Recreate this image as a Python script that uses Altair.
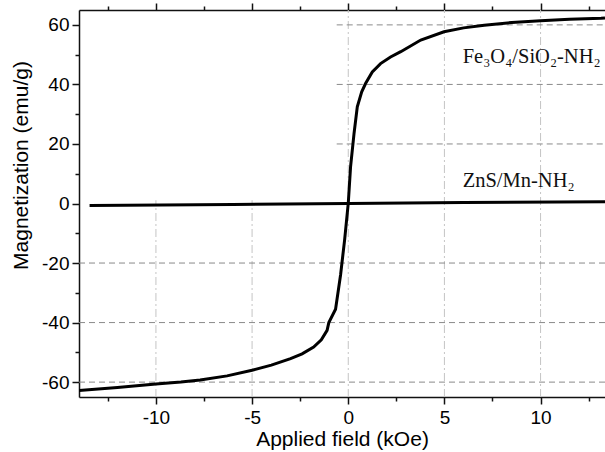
import altair as alt
import pandas as pd

# Fe3O4/SiO2-NH2 magnetization curve: applied field (kOe) vs magnetization (emu/g)
fe_h = [-14.0, -12.0, -10.0, -8.7, -7.7, -6.3, -5.0, -4.0, -3.0, -2.4, -1.8, -1.4,
        -1.1, -1.01, -0.66, -0.4, -0.19, 0.0, 0.12, 0.3, 0.47, 0.7, 0.9, 1.25,
        1.68, 2.2, 2.73, 3.77, 4.98, 6.0, 7.07, 8.5, 10.0, 11.5, 13.15, 13.35]
fe_m = [-62.8, -61.8, -60.6, -60.0, -59.3, -57.9, -56.0, -54.3, -52.1, -50.5, -48.2, -45.8,
        -42.6, -40.0, -35.5, -24.0, -12.3, 0.0, 12.3, 23.5, 32.5, 37.5, 40.3, 44.2,
        47.0, 49.2, 51.0, 54.9, 57.7, 59.0, 59.9, 60.8, 61.4, 61.9, 62.2, 62.3]

# ZnS/Mn-NH2: nearly flat response
zn_h = [-13.45, -6.0, 0.0, 6.0, 13.35]
zn_m = [-0.7, -0.35, 0.0, 0.3, 0.6]

# Axis ticks (major + minor)
x_ticks = [-12.5, -10, -7.5, -5, -2.5, 0, 2.5, 5, 7.5, 10, 12.5]
y_ticks = [-60, -50, -40, -30, -20, -10, 0, 10, 20, 30, 40, 50, 60]

# Grid lines (the upper-left quadrant is left clear)
hgrid_y = [-60, -40, -20, 20, 40, 60]
hgrid_x0 = [-14.0, -14.0, -14.0, -0.6, -0.6, -0.6]
hgrid_x1 = [13.35, 13.35, 13.35, 13.35, 13.35, 13.35]
vgrid_x = [-10, -5, 0, 5, 10]
vgrid_y0 = [-65, -65, -65, -65, -65]
vgrid_y1 = [1.1, 1.1, 65, 65, 65]

# Curve labels
label_text = ["Fe\u2083O\u2084/SiO\u2082-NH\u2082", "ZnS/Mn-NH\u2082"]
label_h = [5.95, 5.95]
label_m = [47.1, 5.6]

x_scale = alt.Scale(domain=[-14.0, 13.35], nice=False, zero=False)
y_scale = alt.Scale(domain=[-65, 65], nice=False, zero=False)

AX = "#111111"
SANS = "Liberation Sans"

x_tick_size = {"condition": {"test": "abs(datum.value % 5) < 0.01", "value": 7}, "value": 4}
y_tick_size = {"condition": {"test": "abs(datum.value % 20) < 0.01", "value": 7}, "value": 4}

x_bottom = alt.Axis(
    orient="bottom", values=x_ticks, grid=False, tickSize=x_tick_size,
    labelExpr="abs(datum.value % 5) < 0.01 ? '' + datum.value : ''",
    labelOverlap=False, labelFlush=False, labelFont=SANS, labelFontSize=19,
    labelColor="black", labelPadding=4,
    domainColor=AX, domainWidth=1.5, tickColor=AX, tickWidth=1.5,
    title="Applied field (kOe)", titleFont=SANS, titleFontSize=21,
    titleFontWeight="normal", titleColor="black",
    titleBaseline="alphabetic", titleY=48,
)
x_top = alt.Axis(
    orient="top", values=x_ticks, grid=False, tickSize=x_tick_size,
    labels=False, title=None,
    domainColor=AX, domainWidth=1.5, tickColor=AX, tickWidth=1.5,
)
y_left = alt.Axis(
    orient="left", values=y_ticks, grid=False, tickSize=y_tick_size,
    labelExpr="abs(datum.value % 20) < 0.01 ? '' + datum.value : ''",
    labelOverlap=False, labelFlush=False, labelFont=SANS, labelFontSize=19,
    labelColor="black", labelPadding=3,
    domainColor=AX, domainWidth=1.5, tickColor=AX, tickWidth=1.5,
    title="Magnetization (emu/g)", titleFont=SANS, titleFontSize=21,
    titleFontWeight="normal", titleColor="black", titleAngle=270,
    titleAlign="center", titleBaseline="alphabetic", titleX=-52, titleY=155,
)

hgrid = pd.DataFrame({"y": hgrid_y, "x0": hgrid_x0, "x1": hgrid_x1})
vgrid = pd.DataFrame({"x": vgrid_x, "y0": vgrid_y0, "y1": vgrid_y1})
fe = pd.DataFrame({"h": fe_h, "m": fe_m, "i": list(range(len(fe_h)))})
zn = pd.DataFrame({"h": zn_h, "m": zn_m, "i": list(range(len(zn_h)))})
labels = pd.DataFrame({"t": label_text, "h": label_h, "m": label_m})

h_rules = alt.Chart(hgrid).mark_rule(color="#8a8a8a", strokeWidth=1, strokeDash=[6, 4]).encode(
    x=alt.X("x0:Q", scale=x_scale, axis=None),
    x2="x1:Q",
    y=alt.Y("y:Q", scale=y_scale, axis=None),
)
v_rules = alt.Chart(vgrid).mark_rule(color="#c4c4c4", strokeWidth=1, strokeDash=[8, 3, 2, 3]).encode(
    x=alt.X("x:Q", scale=x_scale, axis=None),
    y=alt.Y("y0:Q", scale=y_scale, axis=None),
    y2="y1:Q",
)
fe_line = alt.Chart(fe).mark_line(color="black", strokeWidth=3, clip=True).encode(
    x=alt.X("h:Q", scale=x_scale, axis=x_bottom),
    y=alt.Y("m:Q", scale=y_scale, axis=y_left),
    order="i:Q",
)
zn_line = alt.Chart(zn).mark_line(color="black", strokeWidth=3, clip=True).encode(
    x=alt.X("h:Q", scale=x_scale, axis=x_top),
    y=alt.Y("m:Q", scale=y_scale, axis=None),
    order="i:Q",
)
text = alt.Chart(labels).mark_text(
    font="Liberation Serif", fontSize=20.5, color="#111111", align="left", baseline="alphabetic"
).encode(
    x=alt.X("h:Q", scale=x_scale, axis=None),
    y=alt.Y("m:Q", scale=y_scale, axis=None),
    text="t:N",
)

chart = (
    alt.layer(v_rules, h_rules, fe_line, zn_line, text)
    .resolve_axis(x="independent", y="independent")
    .properties(
        width=526, height=387,
        autosize=alt.AutoSizeParams(type="none"),
        padding={"left": 79, "top": 10, "right": 0, "bottom": 55},
        background="white",
    )
    .configure_view(stroke=None)
)

chart.save("out.html", embed_options={"renderer": "svg", "actions": False})
